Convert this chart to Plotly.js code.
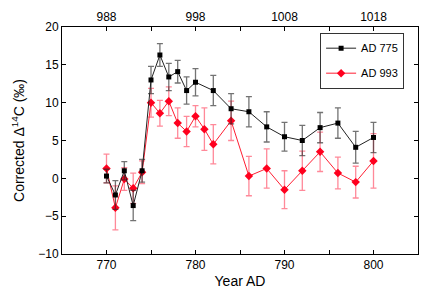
<!DOCTYPE html>
<html>
<head>
<meta charset="utf-8">
<script src="https://cdn.plot.ly/plotly-3.0.1.min.js"></script>
<style>html,body{margin:0;padding:0;background:#fff}#chart{width:437px;height:294px}</style>
</head>
<body>
<div id="chart"></div>
<script>
// AD 775 event series
const years775 = [770,771,772,773,774,775,776,777,778,779,780,782,784,786,788,790,792,794,796,798,800];
const vals775  = [0.3,-2.2,1.0,-3.6,1.0,13.0,16.3,13.4,14.1,11.6,12.7,11.6,9.2,8.8,6.8,5.5,5.0,6.7,7.3,4.1,5.4];
const err775   = [0.9,1.9,1.2,2.0,1.5,1.8,1.5,1.8,1.5,1.8,1.8,2.0,2.0,2.0,2.0,1.9,2.0,2.0,2.0,2.1,2.0];
// AD 993 event series (plotted on the shifted year scale)
const years993 = [770,771,772,773,774,775,776,777,778,779,780,781,782,784,786,788,790,792,794,796,798,800];
const vals993  = [1.3,-3.9,-0.1,-1.3,0.8,10.0,8.6,10.2,7.3,6.2,8.2,6.5,4.5,7.6,0.3,1.3,-1.5,1.0,3.5,0.7,-0.5,2.3];
const err993   = [1.9,2.9,1.5,2.0,1.5,1.9,1.7,1.9,2.0,2.0,1.4,2.8,2.6,2.6,2.6,2.6,2.5,2.6,2.6,2.1,2.1,3.6];
// tick labels
const bottomTicks = [770,780,790,800];
const topTicks = [988,998,1008,1018];
const yTicks = [-10,-5,0,5,10,15,20];

const font = 'Liberation Sans, Arial, Helvetica, sans-serif';

const traces = [
  {
    x: years993, y: vals993, name: 'AD 993', mode: 'lines+markers', legendgroup: 'b', legendrank: 2,
    line: {color: 'rgb(255,30,50)', width: 1},
    marker: {symbol: 'diamond', size: 6.5, color: 'rgb(255,0,30)'},
    error_y: {type: 'data', array: err993, visible: true, color: 'rgba(255,40,70,0.55)', thickness: 1.3, width: 3}
  },
  {
    x: years775, y: vals775, name: 'AD 775', mode: 'lines+markers', legendgroup: 'a', legendrank: 1,
    line: {color: '#222', width: 1},
    marker: {symbol: 'square', size: 5, color: '#000'},
    error_y: {type: 'data', array: err775, visible: true, color: 'rgba(40,40,40,0.65)', thickness: 1.3, width: 3}
  },
  {
    x: [topTicks[0]], y: [null], xaxis: 'x2', showlegend: false, hoverinfo: 'skip', mode: 'markers'
  }
];

const layout = {
  width: 437, height: 294,
  margin: {l: 62, r: 19, t: 27, b: 40},
  paper_bgcolor: '#fff', plot_bgcolor: '#fff',
  font: {family: font, size: 12, color: '#000'},
  showlegend: true,
  legend: {
    x: 0.725, y: 0.975, xanchor: 'left', yanchor: 'top',
    traceorder: 'grouped',
    bordercolor: '#333', borderwidth: 1, bgcolor: '#fff',
    font: {size: 11, family: font},
    itemwidth: 30, tracegroupgap: 6
  },
  xaxis: {
    range: [765, 805], tickvals: bottomTicks, ticks: 'inside', ticklen: 4, tickcolor: '#000',
    showline: true, linecolor: '#000', linewidth: 1, showgrid: false, zeroline: false,
    minor: {dtick: 5, tick0: 765, ticks: 'inside', ticklen: 4, tickcolor: '#000', showgrid: false},
    tickfont: {size: 12},
    title: {text: 'Year AD', font: {size: 14}, standoff: 4}
  },
  xaxis2: {
    overlaying: 'x', side: 'top', anchor: 'y',
    range: [983, 1023], tickvals: topTicks, ticks: 'inside', ticklen: 4, tickcolor: '#000',
    showline: true, linecolor: '#000', linewidth: 1, showgrid: false, zeroline: false,
    minor: {dtick: 5, tick0: 983, ticks: 'inside', ticklen: 4, tickcolor: '#000', showgrid: false},
    tickfont: {size: 12}
  },
  yaxis: {
    range: [-10, 20], tickvals: yTicks, ticks: 'inside', ticklen: 4, tickcolor: '#000',
    showline: true, linecolor: '#000', linewidth: 1, mirror: 'ticks', showgrid: false, zeroline: false,
    tickfont: {size: 12},
    ticktext: yTicks.map(v => v < 0 ? '\u2212' + Math.abs(v) : String(v)),
    title: {text: 'Corrected \u0394<sup>14</sup>C (\u2030)', font: {size: 14}, standoff: 10}
  }
};

Plotly.newPlot('chart', traces, layout, {staticPlot: true, displayModeBar: false});
</script>
</body>
</html>
